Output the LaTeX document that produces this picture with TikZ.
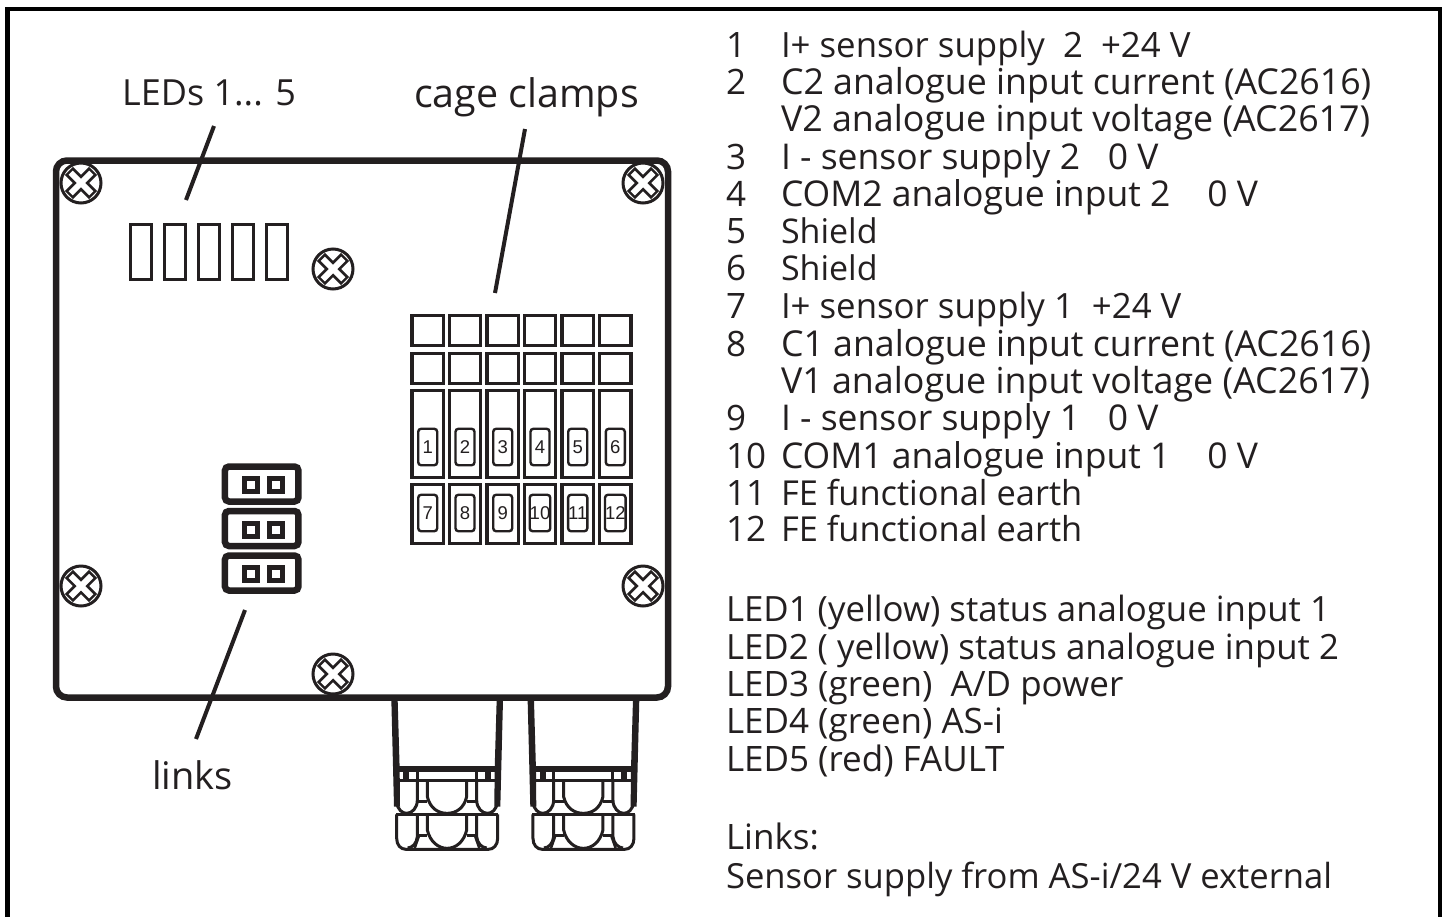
\documentclass[tikz,border=0pt]{standalone}
\usepackage{fontspec}
\setmainfont{Open Sans}
\newfontfamily\numfont{Liberation Sans}
\definecolor{ink}{HTML}{231F20}
\tikzset{
 lbl/.style={anchor=base west,inner sep=0pt,outer sep=0pt,text=ink},
 big/.style={anchor=base,inner sep=0pt,text=ink},
 leader/.style={draw=ink,line width=4pt},
 clampbox/.style={draw=ink,line width=3.4pt,inner sep=0pt,minimum width=31.5pt,minimum height=30pt},
 term/.style={draw=ink,line width=3.4pt,inner sep=0pt,minimum width=31.5pt},
 tag/.style={draw=ink,line width=2.4pt,rounded corners=3pt,inner sep=0pt,minimum width=19pt,minimum height=36.5pt,text=ink,font=\numfont\fontsize{18.5}{18.5}\selectfont},
 led/.style={draw=ink,line width=3pt,inner sep=0pt,minimum width=21pt,minimum height=55pt},
 link/.style={draw=ink,line width=6.5pt,rounded corners=4pt,inner sep=0pt,minimum width=73.5pt,minimum height=35pt},
 pin/.style={draw=ink,line width=5pt,inner sep=0pt,minimum width=13pt,minimum height=13pt},
 screw/.pic={
  \draw[ink,line width=3pt] (0,0) circle (20);
  \foreach \a in {45,135}{\draw[ink,line width=11.5pt,rotate=\a] (-17,0)--(17,0);}
  \foreach \a in {45,135}{\draw[white,line width=6pt,rotate=\a] (-14.5,0)--(14.5,0);}
 },
 gland/.pic={
  \begin{scope}[xscale=1/3,yscale=1/3,ink]
  \fill (64,60)--(83,60)--(89,268)--(90,380)--(72,380)--cycle;
  \fill (399,60)--(380,60)--(374,268)--(373,380)--(391,380)--cycle;
  \draw[line width=6.6pt] (80,267)--(382,267);
  \draw[line width=3pt] (80,300)--(382,300);
  \foreach \x/\w in {109/6,142/3,320/3,353/6}{\draw[line width=\w pt] (\x,267)--(\x,300);}
  \draw[line width=3pt] (80,303) -- (80,365) .. controls (82,390) and (98,400) .. (110,400) .. controls (125,400) and (142,385) .. (142,360) -- (142,303);
  \draw[line width=3pt] (382,303) -- (382,365) .. controls (380,390) and (365,400) .. (352,400) .. controls (337,400) and (320,385) .. (320,360) -- (320,303);
  \draw[line width=3pt] (172,303) -- (172,350) .. controls (180,385) and (205,400) .. (231,400) .. controls (258,400) and (282,385) .. (290,350) -- (290,303);
  \draw[line width=3pt] (142,365)--(172,365) (290,365)--(320,365);
  \draw[line width=3pt] (78,403)--(385,403);
  \draw[line width=3pt] (80,403)--(80,475) .. controls (80,495) and (92,508) .. (108,508) -- (355,508) .. controls (371,508) and (383,495) .. (383,475) -- (383,403);
  \draw[line width=3pt] (142,403)--(142,470) .. controls (140,490) and (128,503) .. (113,504);
  \draw[line width=3pt] (320,403)--(320,470) .. controls (322,490) and (335,503) .. (350,504);
  \draw[line width=3pt] (172,403)--(172,450) .. controls (180,485) and (205,505) .. (231,505) .. controls (258,505) and (282,485) .. (290,450) -- (290,403);
  \draw[line width=3pt] (142,465)--(172,465) (290,465)--(320,465);
  \draw[line width=2.4pt] (147,468)--(134,505) (315,468)--(328,505);
  \end{scope}
 }
}
\newcommand{\fs}[1]{\fontsize{#1}{#1}\selectfont}
\newcommand{\lineitem}[4][35]{\node[lbl] at (726,#2) {\fs{35}\makebox[55pt][l]{#3}\fs{#1}#4};}
\begin{document}
\begin{tikzpicture}[x=1pt,y=-1pt]
\useasboundingbox (0,0) rectangle (1445,916);
\fill[white] (0,0) rectangle (1445,916);
\draw[black,line width=4.6pt] (7.5,920)--(7.5,9)--(1440,9)--(1440,920);
% glands
\pic at (370,680) {gland};
\pic at (506.3,680) {gland};
% housing
\node[draw=ink,line width=6.5pt,rounded corners=11pt,fill=none,inner sep=0pt,minimum width=612pt,minimum height=537pt] (housing) at (362,429) {};
% screws
\pic at (81,183) {screw};
\pic at (643,183) {screw};
\pic at (333,269) {screw};
\pic at (81,586) {screw};
\pic at (643,586) {screw};
\pic at (333,674) {screw};
% LEDs
\foreach \n/\x in {1/141,2/175,3/209,4/243,5/277}{\node[led] (led\n) at (\x,251.7) {};}
% clamps
\foreach \n/\x in {1/427.7,2/465,3/502.7,4/540,5/577.7,6/615.3}{
 \node[clampbox] (ca\n) at (\x,330.5) {};
 \node[clampbox] (cb\n) at (\x,368.5) {};
 \node[term,minimum height=87pt] (t\n) at (\x,434) {};
 \node[tag] (g\n) at (\x,447) {\n};
}
\foreach \n/\x in {7/427.7,8/465,9/502.7,10/540,11/577.7,12/615.3}{
 \node[term,minimum height=59pt] (t\n) at (\x,514) {};
 \node[tag] (g\n) at (\x,513) {\n};
}
% links
\foreach \n/\y in {1/484,2/528.5,3/573}{
 \node[link] (l\n) at (261.7,\y) {};
 \node[pin] (pa\n) at (250.7,\y+1) {};
 \node[pin] (pb\n) at (276,\y+1) {};
}
% labels
\node[big] (tleds) at (209,105) {\fs{36}LEDs 1... 5};
\node[big] (tclamps) at (526.5,107) {\fs{39.4}cage clamps};
\node[big] (tlinks) at (192.5,789) {\fs{38}links};
\coordinate (a1) at (214,126); \coordinate (a2) at (186,200);
\coordinate (b1) at (525,129); \coordinate (b2) at (495,293);
\coordinate (c1) at (245,610); \coordinate (c2) at (196,739);
\draw[leader] (a1)--(a2);
\draw[leader] (b1)--(b2);
\draw[leader] (c1)--(c2);
% text
\lineitem[34.8]{57}{1}{I+ sensor supply\ \ 2\ \ +24 V}
\lineitem[35.7]{94}{2}{C2 analogue input current (AC2616)}
\lineitem[35.8]{131}{}{V2 analogue input voltage (AC2617)}
\lineitem[35.5]{169}{3}{I - sensor supply 2\ \ \ 0 V}
\lineitem[35.5]{206}{4}{COM2 analogue input 2\ \ \ \ 0 V}
\lineitem[34]{243}{5}{Shield}
\lineitem[34]{280}{6}{Shield}
\lineitem[34.8]{318}{7}{I+ sensor supply 1\ \ +24 V}
\lineitem[35.7]{356}{8}{C1 analogue input current (AC2616)}
\lineitem[35.8]{393}{}{V1 analogue input voltage (AC2617)}
\lineitem[35.5]{430}{9}{I - sensor supply 1\ \ \ 0 V}
\lineitem[35.5]{468}{10}{COM1 analogue input 1\ \ \ \ 0 V}
\lineitem[34.4]{505}{11}{FE functional earth}
\lineitem[34.4]{541}{12}{FE functional earth}
\node[lbl] at (726,621) {\fs{34.8}LED1 (yellow) status analogue input 1};
\node[lbl] at (726,659) {\fs{34.8}LED2 ( yellow) status analogue input 2};
\node[lbl] at (726,696) {\fs{35}LED3 (green)\ \ A/D power};
\node[lbl] at (726,733) {\fs{35}LED4 (green) AS-i};
\node[lbl] at (726,771) {\fs{35}LED5 (red) FAULT};
\node[lbl] at (726,849) {\fs{35}Links:};
\node[lbl] at (726,888) {\fs{34.6}Sensor supply from AS-i/24 V external};
\end{tikzpicture}
\end{document}
